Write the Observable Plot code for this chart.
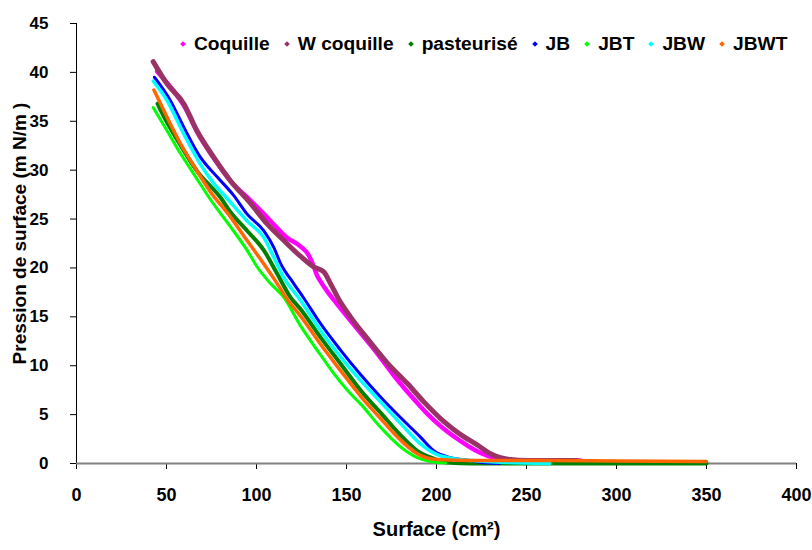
<!DOCTYPE html>
<html>
<head>
<meta charset="utf-8">
<script src="https://cdn.jsdelivr.net/npm/d3@7"></script>
<script src="https://cdn.jsdelivr.net/npm/@observablehq/plot@0.6"></script>
<style>
  html, body { margin: 0; padding: 0; background: #fff; }
  #wrap { position: relative; width: 812px; height: 550px; font-family: "Liberation Sans", Arial, sans-serif; }
  #legend { position: absolute; left: 181px; top: 33px; display: flex; align-items: center; font-weight: bold; font-size: 19.2px; color: #000; white-space: nowrap; }
  #legend .item { display: flex; align-items: center; margin-right: 15px; }
  #legend .mk { width: 4px; height: 4px; transform: rotate(45deg); margin-right: 9px; }
</style>
</head>
<body>
<div id="wrap"><div id="legend"></div></div>
<script>
const seriesNames = ["Coquille", "W coquille", "pasteurisé", "JB", "JBT", "JBW", "JBWT"];
const seriesColors = ["#FF00FF", "#993366", "#008000", "#0000FF", "#00FF00", "#00FFFF", "#FF6600"];

const coquille = [[44.8,40.1],[54,38.1],[60,36.5],[67,33.9],[76,31.3],[86,28.8],[96.7,26.9],[107.8,24.8],[117,23.1],[124.4,22.2],[129,21.3],[131.5,20.3],[133.5,19.3],[136,18.5],[139.3,17.6],[144.8,16.3],[154,14.2],[165.2,11.7],[176.3,9.0],[189.3,6.2],[194.8,5.1],[203,3.7],[213.3,2.3],[221,1.4],[228.1,0.8],[237.4,0.4],[250,0.3],[265,0.3],[280,0.3]];
const wCoquille = [[42.6,41.1],[50.4,38.8],[59.6,36.8],[67,34.0],[76.3,31.3],[85.6,28.9],[96.7,26.6],[105.9,24.5],[115.2,22.8],[124.4,21.2],[131.8,20.1],[137.4,19.6],[141.1,18.4],[145.7,16.8],[152.2,15.0],[161.5,12.8],[172.6,10.3],[183.7,8.2],[193,6.3],[204,4.3],[213,3.0],[222.6,1.9],[230,1.0],[235.6,0.6],[241,0.4],[250,0.3],[265,0.3],[278,0.3]];
const pasteurise = [[45,36.8],[48.5,35.5],[57,32.8],[67,29.9],[80,27.2],[85.6,25.7],[94.8,23.8],[104.1,21.8],[111.5,19.4],[118.9,17.0],[124.4,15.8],[135.6,12.9],[146.7,10.2],[157.8,7.5],[168.9,5.2],[180,2.9],[189.3,1.3],[198.5,0.5],[205.9,0.1],[220,0.0],[260,0.0],[300,0.0],[350,0.0]];
const jb = [[43.3,39.5],[52.2,37.1],[59.6,34.4],[68.9,31.3],[78.2,29.3],[87.4,27.4],[94.8,25.5],[104.1,23.8],[109.6,22.1],[113.3,20.5],[120.7,18.4],[126.3,16.9],[135.6,14.3],[146.7,11.6],[157.8,9.1],[168.9,6.8],[180,4.7],[191.1,2.7],[198.5,1.3],[207.8,0.6],[218.9,0.3],[225,0.1],[235,0.0]];
const jbt = [[42.6,36.4],[50.4,34.0],[57.8,31.7],[65.2,29.6],[74.4,27.0],[85.6,24.2],[94.8,21.8],[100.4,20.1],[107.8,18.4],[115.2,17.0],[124.4,14.1],[133.7,11.6],[143,9.2],[154,6.8],[157.8,6.1],[168.9,3.7],[180,1.7],[189.3,0.6],[196.7,0.2],[205,0.05]];
const jbw = [[42.6,39.1],[50.4,37.1],[59.6,33.7],[68.9,30.6],[76,28.7],[83.7,27.1],[94.8,24.8],[104.1,23.1],[109.6,21.1],[115.2,19.0],[124.4,16.7],[135.6,13.6],[146.7,10.9],[157.8,8.5],[168.9,6.3],[180,4.1],[191.1,2.0],[200.4,0.9],[209.6,0.5],[220,0.3],[240,0.1],[263,0.0]];
const jbwt = [[43,38.2],[48.5,36.1],[57.8,32.7],[67,29.9],[74.4,27.8],[85.6,25.2],[94.8,22.8],[104.1,20.4],[111.5,18.4],[117,16.8],[124.4,15.1],[135.6,12.2],[146.7,9.5],[157.8,6.9],[168.9,4.6],[180,2.4],[189.3,1.0],[200.4,0.4],[220,0.3],[260,0.3],[300,0.25],[350,0.2]];

const xTicks = [0, 50, 100, 150, 200, 250, 300, 350, 400];
const yTicks = [0, 5, 10, 15, 20, 25, 30, 35, 40, 45];
const xTitle = "Surface (cm²)";
const yTitle = "Pression de surface (m N/m )";
const seriesData = [coquille, wCoquille, pasteurise, jb, jbt, jbw, jbwt];
const strokeWidths = [4.5, 5, 4, 3, 3, 3.5, 3.5];

const rows = [];
seriesData.forEach((arr, i) => arr.forEach(([x, y]) => rows.push({series: seriesNames[i], x, y})));

const lineMarks = seriesNames.map((name, i) =>
  Plot.line(rows.filter(d => d.series === name), {
    x: "x", y: "y", stroke: seriesColors[i], strokeWidth: strokeWidths[i], curve: "monotone-x"
  })
);

const chart = Plot.plot({
  width: 812,
  height: 550,
  marginLeft: 76,
  marginRight: 16,
  marginTop: 23,
  marginBottom: 87,
  style: {fontFamily: "'Liberation Sans', Arial, sans-serif", fontWeight: "bold", fontSize: "18px", color: "#000", background: "#fff"},
  x: {domain: [0, 400]},
  y: {domain: [0, 45]},
  marks: [
    Plot.axisX({ticks: xTicks, tickSize: 6, tickPadding: 19, label: null, stroke: "#000", fontSize: 18}),
    Plot.axisY({ticks: yTicks, tickSize: 6, tickPadding: 22, label: null, stroke: "#000", fontSize: 17}),
    Plot.ruleX([0], {stroke: "#000", strokeWidth: 1}),
    Plot.ruleY([0], {stroke: "#808080", strokeWidth: 2}),
    ...lineMarks,
    Plot.text([xTitle], {frameAnchor: "bottom", dy: 72, text: d => d, fontSize: 20, fontWeight: "bold"}),
    Plot.text([yTitle], {frameAnchor: "left", textAnchor: "middle", rotate: -90, dx: -57, dy: -10, text: d => d, fontSize: 19, fontWeight: "bold", style: "letter-spacing:4.5px"})
  ]
});

const wrap = document.getElementById("wrap");
wrap.insertBefore(chart, wrap.firstChild);

const legend = document.getElementById("legend");
seriesNames.forEach((name, i) => {
  const item = document.createElement("div");
  item.className = "item";
  const mk = document.createElement("span");
  mk.className = "mk";
  mk.style.background = seriesColors[i];
  const t = document.createElement("span");
  t.textContent = name;
  item.appendChild(mk);
  item.appendChild(t);
  legend.appendChild(item);
});
</script>
</body>
</html>
